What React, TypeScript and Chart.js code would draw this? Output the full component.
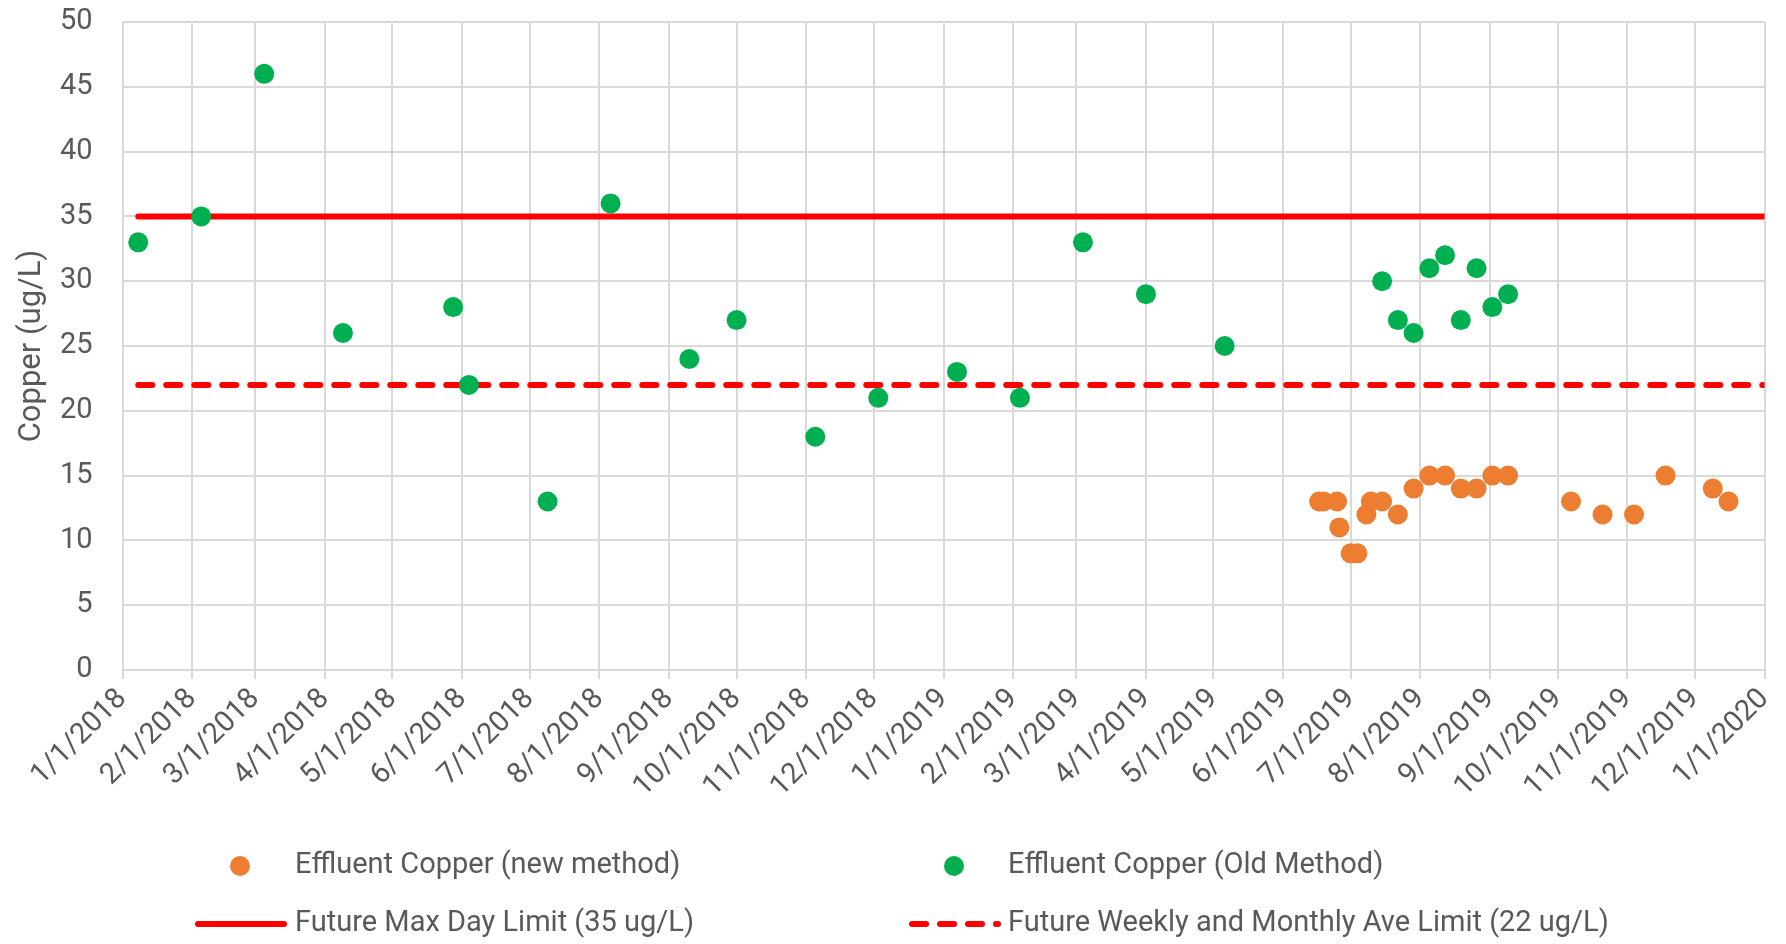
import React, { useEffect, useRef } from "react";
import { Chart, registerables } from "chart.js";

Chart.register(...registerables);

// ---- Data ----
const monthTickLabels = [
  "1/1/2018", "2/1/2018", "3/1/2018", "4/1/2018", "5/1/2018", "6/1/2018",
  "7/1/2018", "8/1/2018", "9/1/2018", "10/1/2018", "11/1/2018", "12/1/2018",
  "1/1/2019", "2/1/2019", "3/1/2019", "4/1/2019", "5/1/2019", "6/1/2019",
  "7/1/2019", "8/1/2019", "9/1/2019", "10/1/2019", "11/1/2019", "12/1/2019",
  "1/1/2020",
];

const yTickValues = [0, 5, 10, 15, 20, 25, 30, 35, 40, 45, 50];

const newMethodDates = [
  "2019-06-17", "2019-06-19", "2019-06-25", "2019-06-26", "2019-07-01", "2019-07-04",
  "2019-07-08", "2019-07-10", "2019-07-15", "2019-07-22", "2019-07-29", "2019-08-05",
  "2019-08-12", "2019-08-19", "2019-08-26", "2019-09-02", "2019-09-09", "2019-10-07",
  "2019-10-21", "2019-11-04", "2019-11-18", "2019-12-09", "2019-12-16",
];
const newMethodValues = [13, 13, 13, 11, 9, 9, 12, 13, 13, 12, 14, 15, 15, 14, 14, 15, 15, 13, 12, 12, 15, 14, 13];

const oldMethodDates = [
  "2018-01-08", "2018-02-05", "2018-03-05", "2018-04-09", "2018-05-28", "2018-06-04",
  "2018-07-09", "2018-08-06", "2018-09-10", "2018-10-01", "2018-11-05", "2018-12-03",
  "2019-01-07", "2019-02-04", "2019-03-04", "2019-04-01", "2019-05-06", "2019-07-15",
  "2019-07-22", "2019-07-29", "2019-08-05", "2019-08-12", "2019-08-19", "2019-08-26",
  "2019-09-02", "2019-09-09",
];
const oldMethodValues = [33, 35, 46, 26, 28, 22, 13, 36, 24, 27, 18, 21, 23, 21, 33, 29, 25, 30, 27, 26, 31, 32, 27, 31, 28, 29];

const limitDates = ["2018-01-08", "2020-01-01"];
const maxDayLimit = [35, 35];
const weeklyMonthlyLimit = [22, 22];

const seriesLabels = [
  "Effluent Copper (new method)",
  "Effluent Copper (Old Method)",
  "Future Max Day Limit (35 ug/L)",
  "Future Weekly and Monthly Ave Limit (22 ug/L)",
];

// ---- helpers ----
const BASE = Date.UTC(2018, 0, 1);
function isoToDay(s: string): number {
  const [y, m, d] = s.split("-").map(Number);
  return (Date.UTC(y, m - 1, d) - BASE) / 86400000;
}
function mdyToDay(s: string): number {
  const [m, d, y] = s.split("/").map(Number);
  return (Date.UTC(y, m - 1, d) - BASE) / 86400000;
}
const tickDays = monthTickLabels.map(mdyToDay);

const FONT = "Roboto, 'Noto Sans', sans-serif";
const TEXT = "#595959";
const ORANGE = "#ED7D31";
const GREEN = "#00B050";
const RED = "#FF0000";

const legendPlugin = {
  id: "gridLegend",
  afterDraw(chart: any) {
    const ctx = chart.ctx as CanvasRenderingContext2D;
    const ds = chart.data.datasets;
    const items = [
      { i: 0, kind: "point", mx: 240, tx: 295, y: 866 },
      { i: 1, kind: "point", mx: 954, tx: 1008, y: 866 },
      { i: 2, kind: "line", lx0: 198, lx1: 284, tx: 295, y: 924 },
      { i: 3, kind: "dash", lx0: 912, lx1: 998, tx: 1008, y: 924 },
    ];
    ctx.save();
    ctx.font = `29px ${FONT}`;
    ctx.textBaseline = "middle";
    ctx.textAlign = "left";
    for (const it of items as any[]) {
      const d = ds[it.i];
      if (it.kind === "point") {
        ctx.fillStyle = d.backgroundColor;
        ctx.beginPath();
        ctx.arc(it.mx, it.y, 10, 0, Math.PI * 2);
        ctx.fill();
      } else {
        ctx.strokeStyle = d.borderColor;
        ctx.lineWidth = 6;
        ctx.lineCap = "round";
        ctx.setLineDash(it.kind === "dash" ? [14, 14] : []);
        ctx.beginPath();
        ctx.moveTo(it.lx0, it.y);
        ctx.lineTo(it.lx1, it.y);
        ctx.stroke();
        ctx.setLineDash([]);
      }
      ctx.fillStyle = TEXT;
      ctx.fillText(d.label, it.tx, it.y);
    }
    ctx.restore();
  },
};

export default function App() {
  const ref = useRef<HTMLCanvasElement | null>(null);

  useEffect(() => {
    document.body.style.margin = "0";
    document.body.style.overflow = "hidden";
    const canvas = ref.current;
    if (!canvas) return;

    const chart = new Chart(canvas, {
      type: "scatter",
      data: {
        datasets: [
          {
            label: seriesLabels[0],
            data: newMethodDates.map((d, i) => ({ x: isoToDay(d), y: newMethodValues[i] })),
            backgroundColor: ORANGE,
            borderColor: ORANGE,
            pointRadius: 10,
            pointBorderWidth: 0,
            showLine: false,
            order: 0,
          },
          {
            label: seriesLabels[1],
            data: oldMethodDates.map((d, i) => ({ x: isoToDay(d), y: oldMethodValues[i] })),
            backgroundColor: GREEN,
            borderColor: GREEN,
            pointRadius: 10,
            pointBorderWidth: 0,
            showLine: false,
            order: 0,
          },
          {
            label: seriesLabels[2],
            data: limitDates.map((d, i) => ({ x: isoToDay(d), y: maxDayLimit[i] })),
            borderColor: RED,
            backgroundColor: RED,
            borderWidth: 6,
            borderCapStyle: "round",
            pointRadius: 0,
            showLine: true,
            order: 1,
          },
          {
            label: seriesLabels[3],
            data: limitDates.map((d, i) => ({ x: isoToDay(d), y: weeklyMonthlyLimit[i] })),
            borderColor: RED,
            backgroundColor: RED,
            borderWidth: 6,
            borderCapStyle: "round",
            borderDash: [14, 14],
            pointRadius: 0,
            showLine: true,
            order: 1,
          },
        ],
      },
      options: {
        animation: false,
        responsive: true,
        maintainAspectRatio: false,
        layout: { padding: { left: 0, top: 22, right: 21.5, bottom: 0 } },
        plugins: {
          legend: { display: false },
          tooltip: { enabled: false },
        },
        scales: {
          x: {
            type: "linear",
            min: tickDays[0],
            max: tickDays[tickDays.length - 1],
            afterBuildTicks: (scale: any) => {
              scale.ticks = tickDays.map((v) => ({ value: v }));
            },
            afterFit: (scale: any) => {
              scale.height = 274;
              scale.paddingLeft = 0;
              scale.paddingRight = 0;
            },
            grid: { color: "#D9D9D9", lineWidth: 2, drawTicks: true, tickLength: 9, tickColor: "#D9D9D9" },
            border: { display: false },
            ticks: {
              autoSkip: false,
              maxRotation: 45,
              minRotation: 45,
              padding: 3,
              color: TEXT,
              font: { family: FONT, size: 29 },
              callback: (_v: any, i: number) => monthTickLabels[i],
            },
          },
          y: {
            min: yTickValues[0],
            max: yTickValues[yTickValues.length - 1],
            afterBuildTicks: (scale: any) => {
              scale.ticks = yTickValues.map((v) => ({ value: v }));
            },
            afterFit: (scale: any) => {
              scale.width = 122.5;
              scale.paddingTop = 0;
              scale.paddingBottom = 0;
            },
            grid: { color: "#D9D9D9", lineWidth: 2, drawTicks: false },
            border: { display: false },
            ticks: {
              padding: 30,
              color: TEXT,
              font: { family: FONT, size: 29 },
            },
            title: {
              display: true,
              text: "Copper (ug/L)",
              color: TEXT,
              font: { family: FONT, size: 31 },
              padding: { top: 14, bottom: 0 },
            },
          },
        },
      },
      plugins: [legendPlugin],
    } as any);

    return () => chart.destroy();
  }, []);

  return (
    <div style={{ width: "1786px", height: "944px", position: "relative" }}>
      <canvas ref={ref} />
    </div>
  );
}
